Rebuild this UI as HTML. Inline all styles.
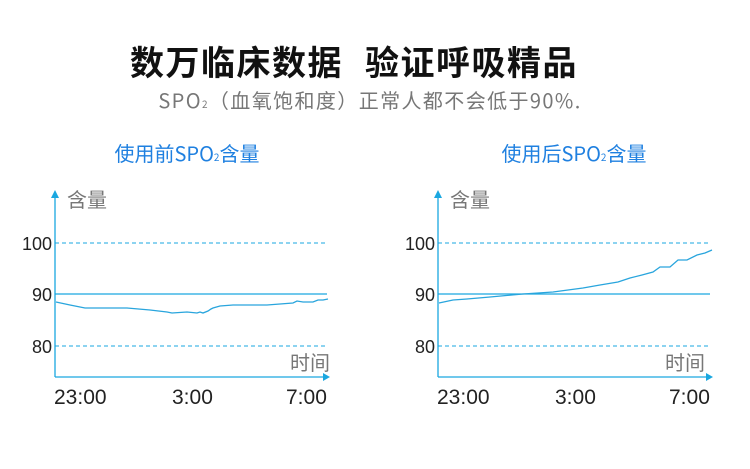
<!DOCTYPE html>
<html><head><meta charset="utf-8"><style>
body{margin:0;background:#fff;}
svg{display:block}
text{font-family:"Liberation Sans","Noto Sans CJK SC",sans-serif;}
</style></head><body>
<svg width="750" height="469" viewBox="0 0 750 469" xmlns="http://www.w3.org/2000/svg">
<text x="130" y="75" text-anchor="start" font-size="34" font-weight="bold" fill="#111" letter-spacing="1.5" style="font-family:'Noto Sans CJK SC',sans-serif">数万临床数据</text>
<text x="578" y="75" text-anchor="end" font-size="34" font-weight="bold" fill="#111" letter-spacing="1.5" style="font-family:'Noto Sans CJK SC',sans-serif">验证呼吸精品</text>
<text x="370" y="108" text-anchor="middle" font-size="20" fill="#777" letter-spacing="1.4" style="font-family:'Noto Sans CJK SC',sans-serif">SPO<tspan font-size="10">2</tspan>（血氧饱和度）正常人都不会低于90%.</text>
<text x="187" y="161" text-anchor="middle" font-size="20" fill="#1f80e0" style="font-family:'Noto Sans CJK SC',sans-serif">使用前SPO<tspan font-size="10">2</tspan>含量</text>
<text x="574" y="161" text-anchor="middle" font-size="20" fill="#1f80e0" style="font-family:'Noto Sans CJK SC',sans-serif">使用后SPO<tspan font-size="10">2</tspan>含量</text>

<g id="c1">
<line x1="55" y1="196" x2="55" y2="377" stroke="#1aa7e0" stroke-width="1.3"/>
<polygon points="51,198 59,198 55,190" fill="#1aa7e0"/>
<line x1="55" y1="377" x2="325" y2="377" stroke="#1aa7e0" stroke-width="1.3"/>
<polygon points="323,373 323,381 330,377" fill="#1aa7e0"/>
<line x1="55" y1="243" x2="327" y2="243" stroke="#1aa7e0" stroke-dasharray="4,3"/>
<line x1="55" y1="294" x2="327" y2="294" stroke="#1aa7e0" stroke-width="1.3"/>
<line x1="55" y1="346" x2="327" y2="346" stroke="#1aa7e0" stroke-dasharray="4,3"/>
<polyline fill="none" stroke="#29a5dd" stroke-width="1.3" points="56,302 70,305 85,308 127,308 150,310 167,312 172,313 187,312 197,313 200,312 203,313 208,311 211,309 213,308 220,306 233,305 250,305 267,305 280,304 293,303 297,301 303,302 313,302 318,300 323,300 328,299"/>
<text x="67" y="207" font-size="20" fill="#777" style="font-family:'Noto Sans CJK SC',sans-serif">含量</text>
<text x="290" y="370" font-size="20" fill="#777" style="font-family:'Noto Sans CJK SC',sans-serif">时间</text>
<text x="52" y="250" text-anchor="end" font-size="18" fill="#222">100</text>
<text x="52" y="301" text-anchor="end" font-size="18" fill="#222">90</text>
<text x="52" y="353" text-anchor="end" font-size="18" fill="#222">80</text>
<text x="54" y="404" font-size="21" fill="#222">23:00</text>
<text x="172" y="404" font-size="21" fill="#222">3:00</text>
<text x="286" y="404" font-size="21" fill="#222">7:00</text>
</g>

<g id="c2">
<line x1="438" y1="196" x2="438" y2="377" stroke="#1aa7e0" stroke-width="1.3"/>
<polygon points="434,198 442,198 438,190" fill="#1aa7e0"/>
<line x1="438" y1="377" x2="708" y2="377" stroke="#1aa7e0" stroke-width="1.3"/>
<polygon points="706,373 706,381 713,377" fill="#1aa7e0"/>
<line x1="438" y1="243" x2="710" y2="243" stroke="#1aa7e0" stroke-dasharray="4,3"/>
<line x1="438" y1="294" x2="710" y2="294" stroke="#1aa7e0" stroke-width="1.3"/>
<line x1="438" y1="346" x2="710" y2="346" stroke="#1aa7e0" stroke-dasharray="4,3"/>
<polyline fill="none" stroke="#29a5dd" stroke-width="1.3" points="439,303 453,300 467,299 490,297 523,294 553,292 583,288 600,285 618,282 630,278 642,275 653,272 660,267 670,267 678,260 687,260 697,255 705,253 712,250"/>
<text x="450" y="207" font-size="20" fill="#777" style="font-family:'Noto Sans CJK SC',sans-serif">含量</text>
<text x="665" y="370" font-size="20" fill="#777" style="font-family:'Noto Sans CJK SC',sans-serif">时间</text>
<text x="435" y="250" text-anchor="end" font-size="18" fill="#222">100</text>
<text x="435" y="301" text-anchor="end" font-size="18" fill="#222">90</text>
<text x="435" y="353" text-anchor="end" font-size="18" fill="#222">80</text>
<text x="437" y="404" font-size="21" fill="#222">23:00</text>
<text x="555" y="404" font-size="21" fill="#222">3:00</text>
<text x="669" y="404" font-size="21" fill="#222">7:00</text>
</g>
</svg>
</body></html>
